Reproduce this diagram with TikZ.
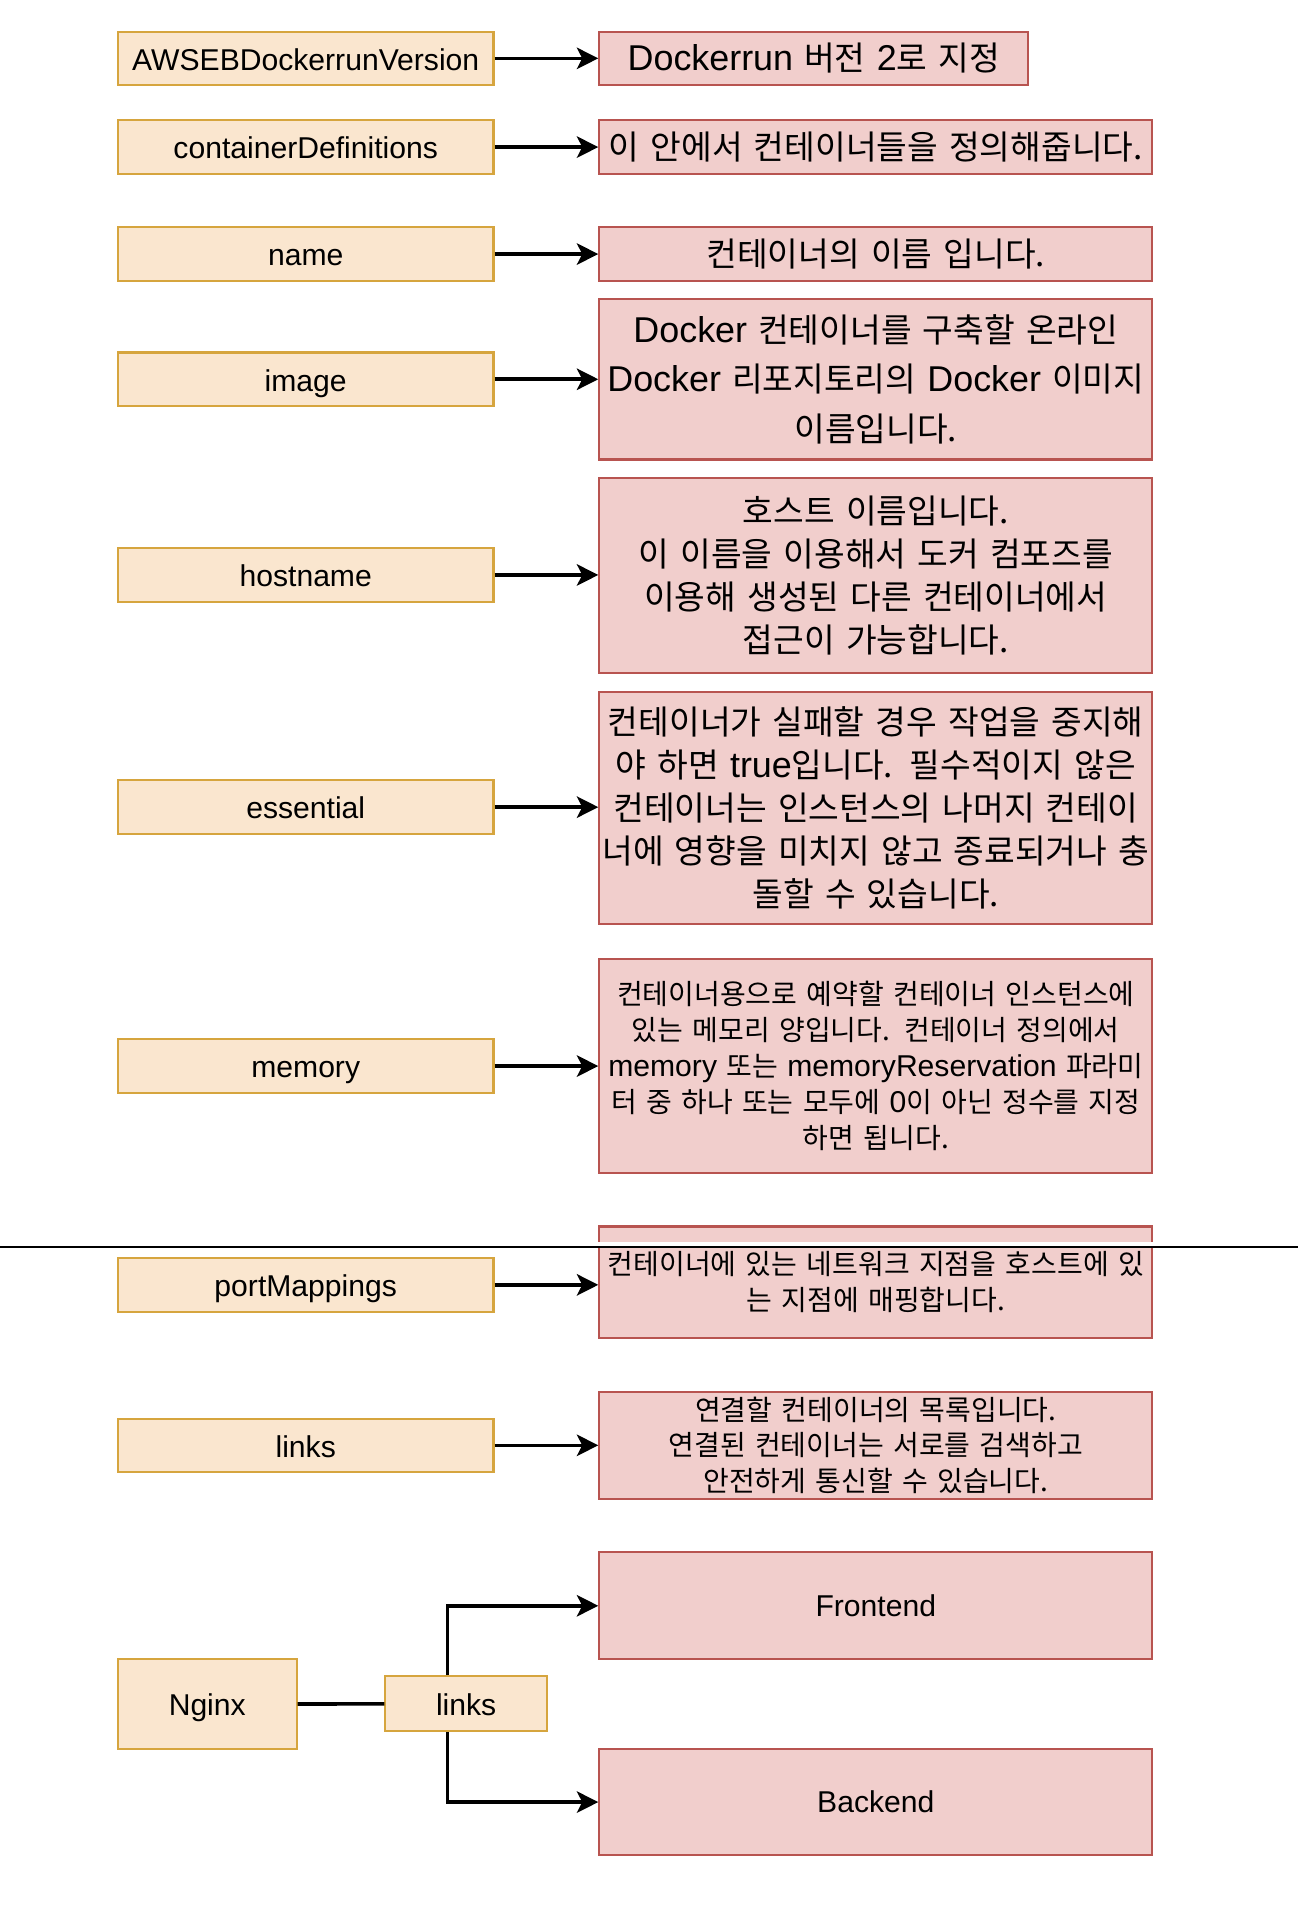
\documentclass[tikz,border=0pt]{standalone}
\usepackage{fontspec}
\setmainfont{Liberation Sans}
\newfontfamily\kr[Scale=0.93]{Noto Sans CJK KR}
\newfontfamily\lat{Liberation Sans}
\usetikzlibrary{arrows.meta}
\definecolor{keyfill}{HTML}{FAE6CF}
\definecolor{keydraw}{HTML}{D6A53E}
\definecolor{descfill}{HTML}{F1CECC}
\definecolor{descdraw}{HTML}{B85450}

\begin{document}
\begin{tikzpicture}[x=0.02cm, y=-0.02cm,
    key/.style={draw=keydraw, fill=keyfill, line width=1pt, minimum width=6.18cm, minimum height=0.88cm, inner sep=0pt, text height=11pt, text depth=0pt, font=\fontsize{14.1}{17}\selectfont},
    desc/.style={draw=descdraw, fill=descfill, line width=1pt, text width=9.1cm, align=center, inner xsep=0pt, inner ysep=0pt, font=\kr\fontsize{16.8}{20.2}\selectfont},
    small/.style={font=\kr\fontsize{14.1}{16.8}\selectfont},
    link/.style={line width=1.7pt, -{Stealth[length=10pt, width=10pt, inset=2.5pt]}}]
    \useasboundingbox (0,0) rectangle (1068,1568);

    \node[key] (ver) at (251.5,48) {AWSEBDockerrunVersion};
    \node[desc, text width=7.06cm, minimum height=0.88cm] (ver-txt) at (669.5,48) {{\lat Dockerrun} 버전 {\lat 2}로 지정};
    \node[key] (defs) at (251.5,121) {containerDefinitions};
    \node[desc, minimum height=0.88cm] (defs-txt) at (720.5,121) {이 안에서 컨테이너들을 정의해줍니다.};
    \node[key] (name) at (251.5,209) {name};
    \node[desc, minimum height=0.88cm] (name-txt) at (720.5,209) {컨테이너의 이름 입니다.};
    \node[key] (image) at (251.5,312) {image};
    \node[desc, minimum height=2.64cm, font=\kr\fontsize{16.8}{23}\selectfont] (image-txt) at (720.5,312) {{\lat Docker} 컨테이너를 구축할 온라인\\{\lat Docker} 리포지토리의 {\lat Docker} 이미지\\이름입니다.};
    \node[key] (host) at (251.5,473) {hostname};
    \node[desc, minimum height=3.22cm] (host-txt) at (720.5,473.5) {호스트 이름입니다.\\이 이름을 이용해서 도커 컴포즈를\\이용해 생성된 다른 컨테이너에서\\접근이 가능합니다.};
    \node[key] (ess) at (251.5,664) {essential};
    \node[desc, minimum height=3.82cm] (ess-txt) at (720.5,664.5) {컨테이너가 실패할 경우 작업을 중지해\\야 하면 {\lat true}입니다. 필수적이지 않은\\컨테이너는 인스턴스의 나머지 컨테이\\너에 영향을 미치지 않고 종료되거나 충\\돌할 수 있습니다.};
    \node[key] (mem) at (251.5,877) {memory};
    \node[desc, small, minimum height=3.52cm] (mem-txt) at (720.5,877) {컨테이너용으로 예약할 컨테이너 인스턴스에\\있는 메모리 양입니다. 컨테이너 정의에서\\{\lat memory} 또는 {\lat memoryReservation} 파라미\\터 중 하나 또는 모두에 {\lat 0}이 아닌 정수를 지정\\하면 됩니다.};
    \node[key] (port) at (251.5,1057) {portMappings};
    \node[desc, small, minimum height=1.84cm] (port-txt) at (720.5,1055) {컨테이너에 있는 네트워크 지점을 호스트에 있\\는 지점에 매핑합니다.};
    \node[key] (links) at (251.5,1189) {links};
    \node[desc, small, minimum height=1.76cm] (links-txt) at (720.5,1189) {연결할 컨테이너의 목록입니다.\\연결된 컨테이너는 서로를 검색하고\\안전하게 통신할 수 있습니다.};

    \draw[link] (ver) -- (ver -| ver-txt.west);
    \draw[link] (defs) -- (defs -| defs-txt.west);
    \draw[link] (name) -- (name -| name-txt.west);
    \draw[link] (image) -- (image -| image-txt.west);
    \draw[link] (host) -- (host -| host-txt.west);
    \draw[link] (ess) -- (ess -| ess-txt.west);
    \draw[link] (mem) -- (mem -| mem-txt.west);
    \draw[link] (port) -- (port -| port-txt.west);
    \draw[link] (links) -- (links -| links-txt.west);

    \draw[white, line width=2pt] (0,1023.5) -- (1068,1023.5);
    \draw[line width=1.2pt] (0,1026) -- (1068,1026);

    \node[key, minimum width=2.94cm, minimum height=1.48cm] (nginx) at (170.5,1402) {Nginx};
    \node[key, minimum width=2.66cm, minimum height=0.9cm] (nlinks) at (383.5,1401.5) {links};
    \node[desc, minimum height=1.76cm, font=\lat\fontsize{14.1}{17}\selectfont] (front) at (720.5,1321) {Frontend};
    \node[desc, minimum height=1.74cm, font=\lat\fontsize{14.1}{17}\selectfont] (back) at (720.5,1482.5) {Backend};

    \draw[line width=1.7pt] (nginx) -- (nlinks);
    \draw[link] ([xshift=-0.31cm]nlinks.north) |- (front);
    \draw[link] ([xshift=-0.31cm]nlinks.south) |- (back);
\end{tikzpicture}
\end{document}
